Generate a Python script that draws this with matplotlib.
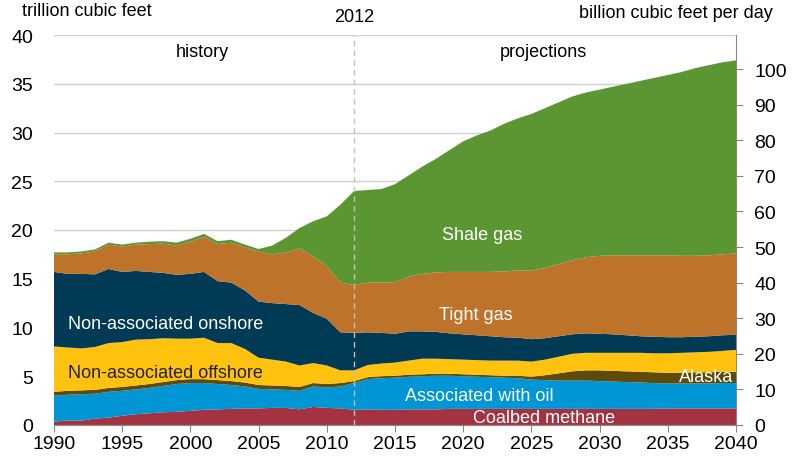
import numpy as np
import matplotlib.pyplot as plt

plt.rcParams['font.family'] = ['Liberation Sans', 'DejaVu Sans']

# years 1990-2040
years = list(range(1990, 2041))

# production by source, trillion cubic feet (bottom to top)
coalbed = [0.35, 0.45, 0.45, 0.65, 0.75, 0.95, 1.1, 1.2, 1.3, 1.35,
           1.45, 1.55, 1.6, 1.65, 1.7, 1.7, 1.75, 1.75, 1.6, 1.85,
           1.75, 1.7, 1.55, 1.6, 1.55, 1.55, 1.6, 1.6, 1.6, 1.65,
           1.65, 1.65, 1.65, 1.65, 1.65, 1.65, 1.65, 1.65, 1.65, 1.65,
           1.65, 1.65, 1.65, 1.65, 1.65, 1.7, 1.7, 1.7, 1.7, 1.7, 1.7]
associated = [2.65, 2.65, 2.7, 2.55, 2.65, 2.55, 2.55, 2.6, 2.7, 2.85,
              2.85, 2.75, 2.6, 2.45, 2.25, 2.0, 1.9, 1.85, 1.9, 2.1,
              2.1, 2.25, 2.75, 3.1, 3.25, 3.3, 3.35, 3.4, 3.45, 3.4,
              3.35, 3.3, 3.25, 3.2, 3.15, 3.0, 2.95, 2.9, 2.9, 2.9,
              2.85, 2.8, 2.75, 2.7, 2.65, 2.55, 2.55, 2.55, 2.55, 2.6, 2.6]
alaska = [0.4] * 19 + [0.35, 0.35, 0.35] + [0.2] * 12 + \
         [0.25, 0.3, 0.5, 0.75, 0.95, 1.05, 1.1, 1.1, 1.1, 1.1, 1.1,
          1.1, 1.1, 1.15, 1.15, 1.15, 1.15]
offshore = [4.65, 4.45, 4.3, 4.4, 4.6, 4.6, 4.7, 4.6, 4.5, 4.25,
            4.15, 4.25, 3.8, 3.9, 3.45, 2.8, 2.65, 2.5, 2.2, 2.05,
            1.9, 1.3, 1.1, 1.25, 1.3, 1.35, 1.45, 1.6, 1.55, 1.5,
            1.5, 1.5, 1.5, 1.55, 1.55, 1.55, 1.6, 1.7, 1.8, 1.8,
            1.8, 1.85, 1.9, 1.95, 1.95, 2.0, 2.05, 2.05, 2.1, 2.15, 2.25]
onshore = [7.65, 7.55, 7.65, 7.45, 7.6, 7.2, 7.05, 6.9, 6.7, 6.55,
           6.65, 6.75, 6.35, 6.2, 6.0, 5.75, 5.8, 5.9, 6.2, 5.15,
           4.8, 3.9, 3.85, 3.35, 3.15, 2.95, 3.0, 2.8, 2.75, 2.65,
           2.6, 2.55, 2.5, 2.4, 2.35, 2.3, 2.2, 2.1, 2.0, 2.0,
           1.95, 1.9, 1.8, 1.7, 1.7, 1.65, 1.6, 1.6, 1.6, 1.6, 1.55]
tight = [1.8, 2.0, 2.1, 2.35, 2.5, 2.6, 2.7, 2.85, 3.0, 3.0,
         3.3, 3.6, 3.8, 4.1, 4.4, 5.15, 5.0, 5.3, 5.8, 5.8,
         5.4, 5.1, 4.9, 5.1, 5.15, 5.3, 5.6, 5.9, 6.1, 6.3,
         6.4, 6.5, 6.6, 6.75, 6.9, 7.05, 7.2, 7.4, 7.6, 7.8,
         8.0, 8.1, 8.2, 8.3, 8.35, 8.4, 8.35, 8.3, 8.3, 8.3, 8.35]
shale = [0.2, 0.2, 0.2, 0.2, 0.2, 0.2, 0.2, 0.25, 0.25, 0.3,
         0.3, 0.3, 0.3, 0.3, 0.3, 0.25, 0.9, 1.5, 2.1, 3.6,
         5.1, 8.0, 9.65, 9.5, 9.6, 10.05, 10.4, 11.0, 11.65, 12.5,
         13.4, 14.0, 14.5, 15.15, 15.6, 16.05, 16.4, 16.6, 16.8, 16.9,
         17.05, 17.3, 17.6, 17.9, 18.2, 18.5, 18.85, 19.25, 19.5, 19.7, 19.8]

series = [coalbed, associated, alaska, offshore, onshore, tight, shale]
colors = ['#A33340', '#0096D6', '#5E4A0A', '#FFC20E', '#003A54', '#BD732A', '#5C9633']

fig = plt.figure(figsize=(8, 4.6), dpi=100)
ax = fig.add_axes([0.0675, 0.074, 0.8525, 0.8477])

ax.stackplot(years, *series, colors=colors, linewidth=0, zorder=2)

ax.set_xlim(1990, 2040)
ax.set_ylim(0, 40)
ax.set_yticks(range(0, 41, 5))
ax.set_xticks(range(1990, 2041, 5))
ax.yaxis.grid(True, color='#d0d0d0', linewidth=1, zorder=0)
ax.set_axisbelow(True)
for s in ['left', 'top', 'right']:
    ax.spines[s].set_visible(False)
ax.spines['bottom'].set_color('#888888')
ax.tick_params(axis='y', length=0, labelsize=14, pad=15)
ax.tick_params(axis='x', length=5, color='#888888', labelsize=14, pad=2)

# right axis in billion cubic feet per day
ax2 = ax.twinx()
ax2.set_ylim(0, 40 * 1000 / 365)
ax2.set_yticks(range(0, 101, 10))
for s in ['left', 'top', 'bottom']:
    ax2.spines[s].set_visible(False)
ax2.spines['right'].set_color('#888888')
ax2.tick_params(axis='y', length=5, color='#888888', labelsize=14, pad=8)

# 2012 divider
ax.axvline(2012, color='#c0c0c0', linestyle=(0, (4, 3)), linewidth=1, zorder=3)
ax.text(2012, 41.0, '2012', ha='center', va='bottom', fontsize=13)
ax.text(2000.9, 38.3, 'history', ha='center', va='center', fontsize=13)
ax.text(2025.9, 38.3, 'projections', ha='center', va='center', fontsize=13)

fig.text(22 / 800, 1 - 12 / 460, 'trillion cubic feet', ha='left', va='center', fontsize=13)
fig.text(773 / 800, 1 - 14 / 460, 'billion cubic feet per day', ha='right', va='center', fontsize=13)

# layer labels
ax.text(2021.4, 19.5, 'Shale gas', color='white', ha='center', va='center', fontsize=13, zorder=4)
ax.text(2020.9, 11.3, 'Tight gas', color='white', ha='center', va='center', fontsize=13, zorder=4)
ax.text(1991.0, 10.4, 'Non-associated onshore', color='white', ha='left', va='center', fontsize=13, zorder=4)
ax.text(1991.0, 5.4, 'Non-associated offshore', color='#222222', ha='left', va='center', fontsize=13, zorder=4)
ax.text(2021.2, 3.0, 'Associated with oil', color='white', ha='center', va='center', fontsize=13, zorder=4)
ax.text(2025.9, 0.8, 'Coalbed methane', color='white', ha='center', va='center', fontsize=13, zorder=4)
ax.text(2039.8, 5.0, 'Alaska', color='white', ha='right', va='center', fontsize=13, zorder=4)

fig.savefig('out.png', dpi=100)
